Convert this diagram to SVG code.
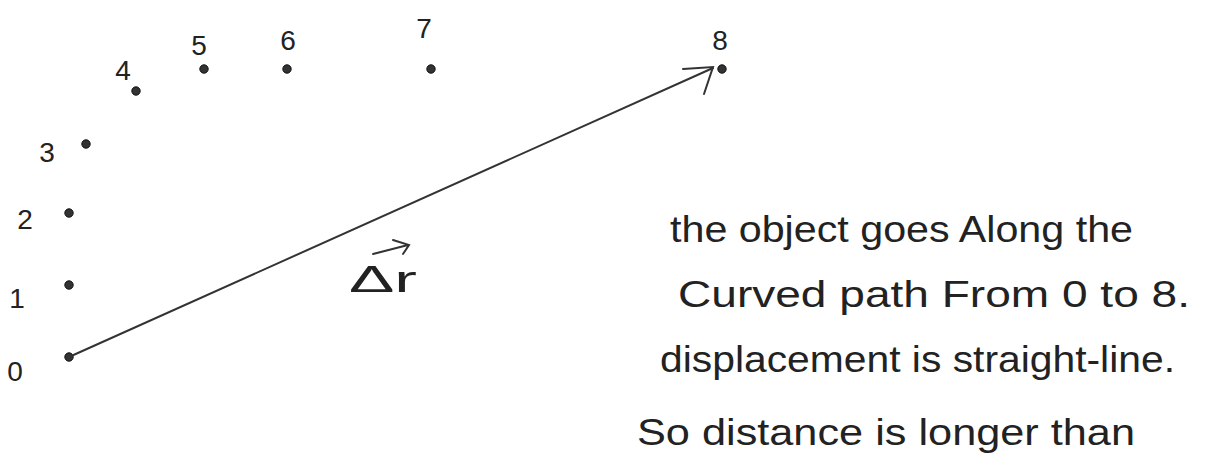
<svg xmlns="http://www.w3.org/2000/svg" width="1224" height="459" viewBox="0 0 1224 459">
<style>
.dot{fill:#333;stroke:#111;stroke-width:1}
.lbl{font-family:"Liberation Sans",sans-serif;font-size:28px;fill:#222;text-anchor:middle}
.note{font-family:"Liberation Sans",sans-serif;font-size:36px;fill:#222}
.conn{stroke:#333;stroke-width:2;fill:none;stroke-linecap:round}
</style>
<rect width="1224" height="459" fill="#fff"/>
<g id="p0"><circle class="dot" cx="69" cy="357" r="4.2"/><text class="lbl" x="15" y="381">0</text></g>
<g id="p1"><circle class="dot" cx="69" cy="285" r="4.2"/><text class="lbl" x="17" y="308">1</text></g>
<g id="p2"><circle class="dot" cx="69" cy="213" r="4.2"/><text class="lbl" x="25" y="229">2</text></g>
<g id="p3"><circle class="dot" cx="86" cy="144" r="4.2"/><text class="lbl" x="47" y="162">3</text></g>
<g id="p4"><circle class="dot" cx="136" cy="91" r="4.2"/><text class="lbl" x="123" y="80">4</text></g>
<g id="p5"><circle class="dot" cx="204" cy="69" r="4.2"/><text class="lbl" x="199" y="55">5</text></g>
<g id="p6"><circle class="dot" cx="287" cy="69" r="4.2"/><text class="lbl" x="288" y="50">6</text></g>
<g id="p7"><circle class="dot" cx="431" cy="69" r="4.2"/><text class="lbl" x="424" y="38">7</text></g>
<g id="p8"><circle class="dot" cx="722" cy="69" r="4.2"/><text class="lbl" x="720" y="50">8</text></g>
<g id="connectors">
<path class="conn" d="M69 357 L713 68"/>
<path class="conn" d="M683 69 L713 67 L704 94" stroke-width="3"/>
</g>
<g id="label-dr">
<text class="note" x="349" y="292" font-size="44" textLength="68" lengthAdjust="spacingAndGlyphs">Δr</text>
<path class="conn" d="M373 254 L408 245 M393 240 L409 245 L403 254"/>
</g>
<g id="note">
<text class="note" x="670" y="242" textLength="463" lengthAdjust="spacingAndGlyphs">the object goes Along the</text>
<text class="note" x="678" y="307" textLength="512" lengthAdjust="spacingAndGlyphs">Curved path From 0 to 8.</text>
<text class="note" x="660" y="372" textLength="515" lengthAdjust="spacingAndGlyphs">displacement is straight-line.</text>
<text class="note" x="637" y="445" textLength="498" lengthAdjust="spacingAndGlyphs">So distance is longer than</text>
</g>
</svg>
